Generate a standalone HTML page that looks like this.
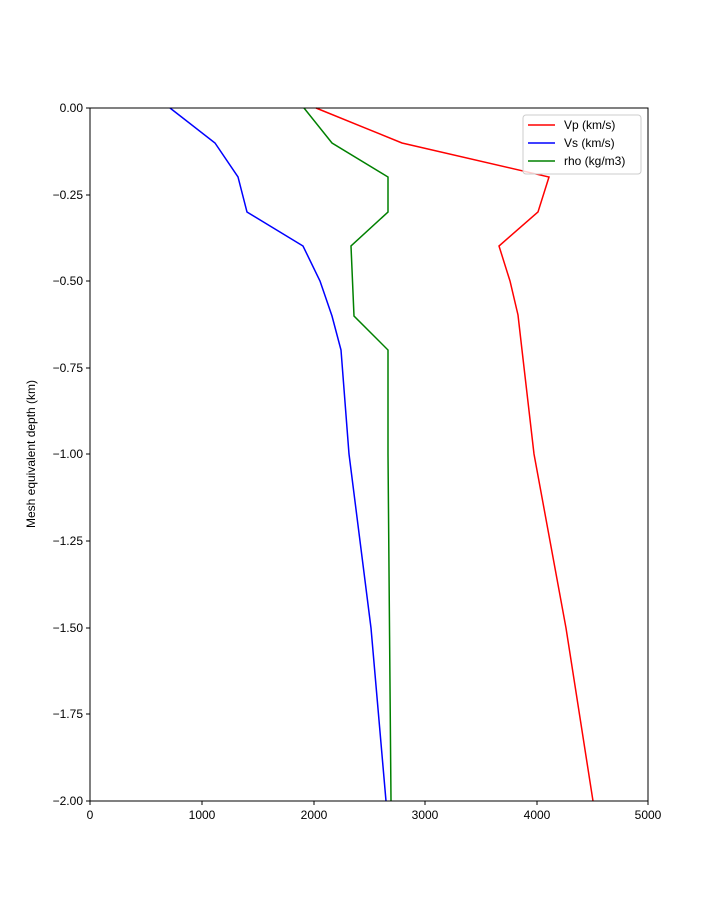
<!DOCTYPE html>
<html><head><style>body{margin:0;background:#fff}</style></head><body>
<svg width="720" height="900" xmlns="http://www.w3.org/2000/svg" font-family="Liberation Sans, DejaVu Sans, sans-serif" font-size="12">
<rect width="720" height="900" fill="#fff"/>
<polyline fill="none" stroke="#ff0000" stroke-width="1.5" points="316,108 402,143 549,177 538,212 499,246 510,281 518,315 522,350 534,454 566,628 593,801"/>
<polyline fill="none" stroke="#0000ff" stroke-width="1.5" points="170,108 215,143 238,177 247,212 303,246 320,281 332,316 341,350 349,454 371,628 386,801"/>
<polyline fill="none" stroke="#008000" stroke-width="1.5" points="304,108 332,143 388,177 388,212 351,246 354,316 388,350 388,454 391,801"/>
<rect x="90" y="108" width="558" height="693" fill="none" stroke="#000" stroke-width="1"/>
<g stroke="#000">
<line x1="90" y1="801" x2="90" y2="805"/><line x1="202" y1="801" x2="202" y2="805"/><line x1="314" y1="801" x2="314" y2="805"/><line x1="425" y1="801" x2="425" y2="805"/><line x1="537" y1="801" x2="537" y2="805"/><line x1="648" y1="801" x2="648" y2="805"/>
<line x1="86" y1="108" x2="90" y2="108"/><line x1="86" y1="195" x2="90" y2="195"/><line x1="86" y1="281" x2="90" y2="281"/><line x1="86" y1="368" x2="90" y2="368"/><line x1="86" y1="454" x2="90" y2="454"/><line x1="86" y1="541" x2="90" y2="541"/><line x1="86" y1="628" x2="90" y2="628"/><line x1="86" y1="714" x2="90" y2="714"/><line x1="86" y1="801" x2="90" y2="801"/>
</g>
<g text-anchor="middle">
<text x="90" y="819">0</text><text x="202" y="819">1000</text><text x="314" y="819">2000</text><text x="425" y="819">3000</text><text x="537" y="819">4000</text><text x="648" y="819">5000</text>
</g>
<g text-anchor="end">
<text x="83" y="112">0.00</text><text x="83" y="199">−0.25</text><text x="83" y="285">−0.50</text><text x="83" y="372">−0.75</text><text x="83" y="458">−1.00</text><text x="83" y="545">−1.25</text><text x="83" y="632">−1.50</text><text x="83" y="718">−1.75</text><text x="83" y="805">−2.00</text>
</g>
<text transform="translate(35,454) rotate(-90)" text-anchor="middle">Mesh equivalent depth (km)</text>
<rect x="523" y="115" width="118" height="59" rx="3" fill="#fff" fill-opacity="0.8" stroke="#ccc"/>
<line x1="528" y1="125" x2="555" y2="125" stroke="#ff0000" stroke-width="1.5"/><text x="564" y="129">Vp (km/s)</text>
<line x1="528" y1="143" x2="555" y2="143" stroke="#0000ff" stroke-width="1.5"/><text x="564" y="147">Vs (km/s)</text>
<line x1="528" y1="161" x2="555" y2="161" stroke="#008000" stroke-width="1.5"/><text x="564" y="165">rho (kg/m3)</text>
</svg>
</body></html>
